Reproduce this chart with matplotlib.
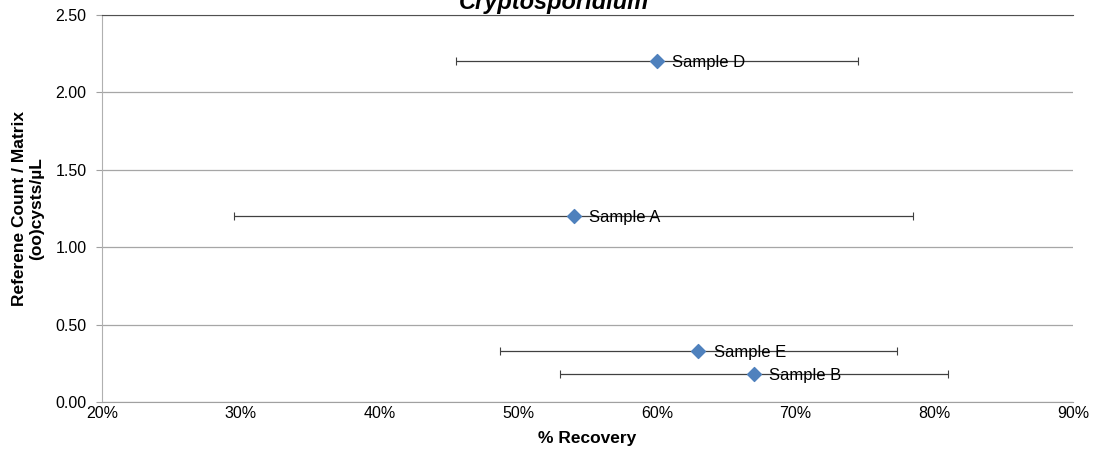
import matplotlib.pyplot as plt
from matplotlib.ticker import FuncFormatter

plt.rcParams['font.family'] = ['Liberation Sans', 'DejaVu Sans']

samples = ['Sample D', 'Sample A', 'Sample E', 'Sample B']
recovery = [60.0, 54.0, 63.0, 67.0]
count = [2.20, 1.20, 0.33, 0.18]
err = [14.5, 24.5, 14.3, 14.0]

fig = plt.figure(figsize=(10.93, 4.55), dpi=100)
ax = fig.add_axes([102 / 1093, 1 - 402 / 455, (1073 - 102) / 1093, (402 - 15) / 455])

ax.errorbar(recovery, count, xerr=err, fmt='none', ecolor='#404040',
            elinewidth=0.9, capsize=3, capthick=0.8, zorder=2)
ax.scatter(recovery, count, marker='D', s=50, color='#4F81BD', zorder=3)
for x, y, name in zip(recovery, count, samples):
    ax.annotate(name, (x, y), xytext=(11, -1), textcoords='offset points',
                va='center', ha='left', fontsize=12, zorder=4)

ax.set_xlim(20, 90)
ax.set_ylim(0, 2.5)
ax.set_xticks(range(20, 91, 10))
ax.set_yticks([0, 0.5, 1.0, 1.5, 2.0, 2.5])
ax.xaxis.set_major_formatter(FuncFormatter(lambda v, p: f'{v:.0f}%'))
ax.yaxis.set_major_formatter(FuncFormatter(lambda v, p: f'{v:.2f}'))
ax.tick_params(labelsize=11.5, color='#a0a0a0')
ax.tick_params(axis='y', length=4, pad=7)
ax.tick_params(axis='x', length=0, pad=3)
ax.yaxis.grid(True, color='#a6a6a6', linewidth=0.9)
ax.set_axisbelow(True)
ax.spines['right'].set_visible(False)
ax.spines['top'].set_color('#505050')
ax.spines['left'].set_color('#b0b0b0')
ax.spines['bottom'].set_color('#a0a0a0')

ax.set_xlabel('% Recovery', fontsize=12.5, fontweight='bold', labelpad=7)
ax.set_ylabel('Referene Count / Matrix\n(oo)cysts/µL', fontsize=12.5,
              fontweight='bold', labelpad=8)

fig.text(554 / 1093, 1 - 2 / 455, 'Cryptosporidium', ha='center', va='center',
         fontsize=17, fontweight='bold', fontstyle='italic')

fig.savefig('out.png', dpi=100)
